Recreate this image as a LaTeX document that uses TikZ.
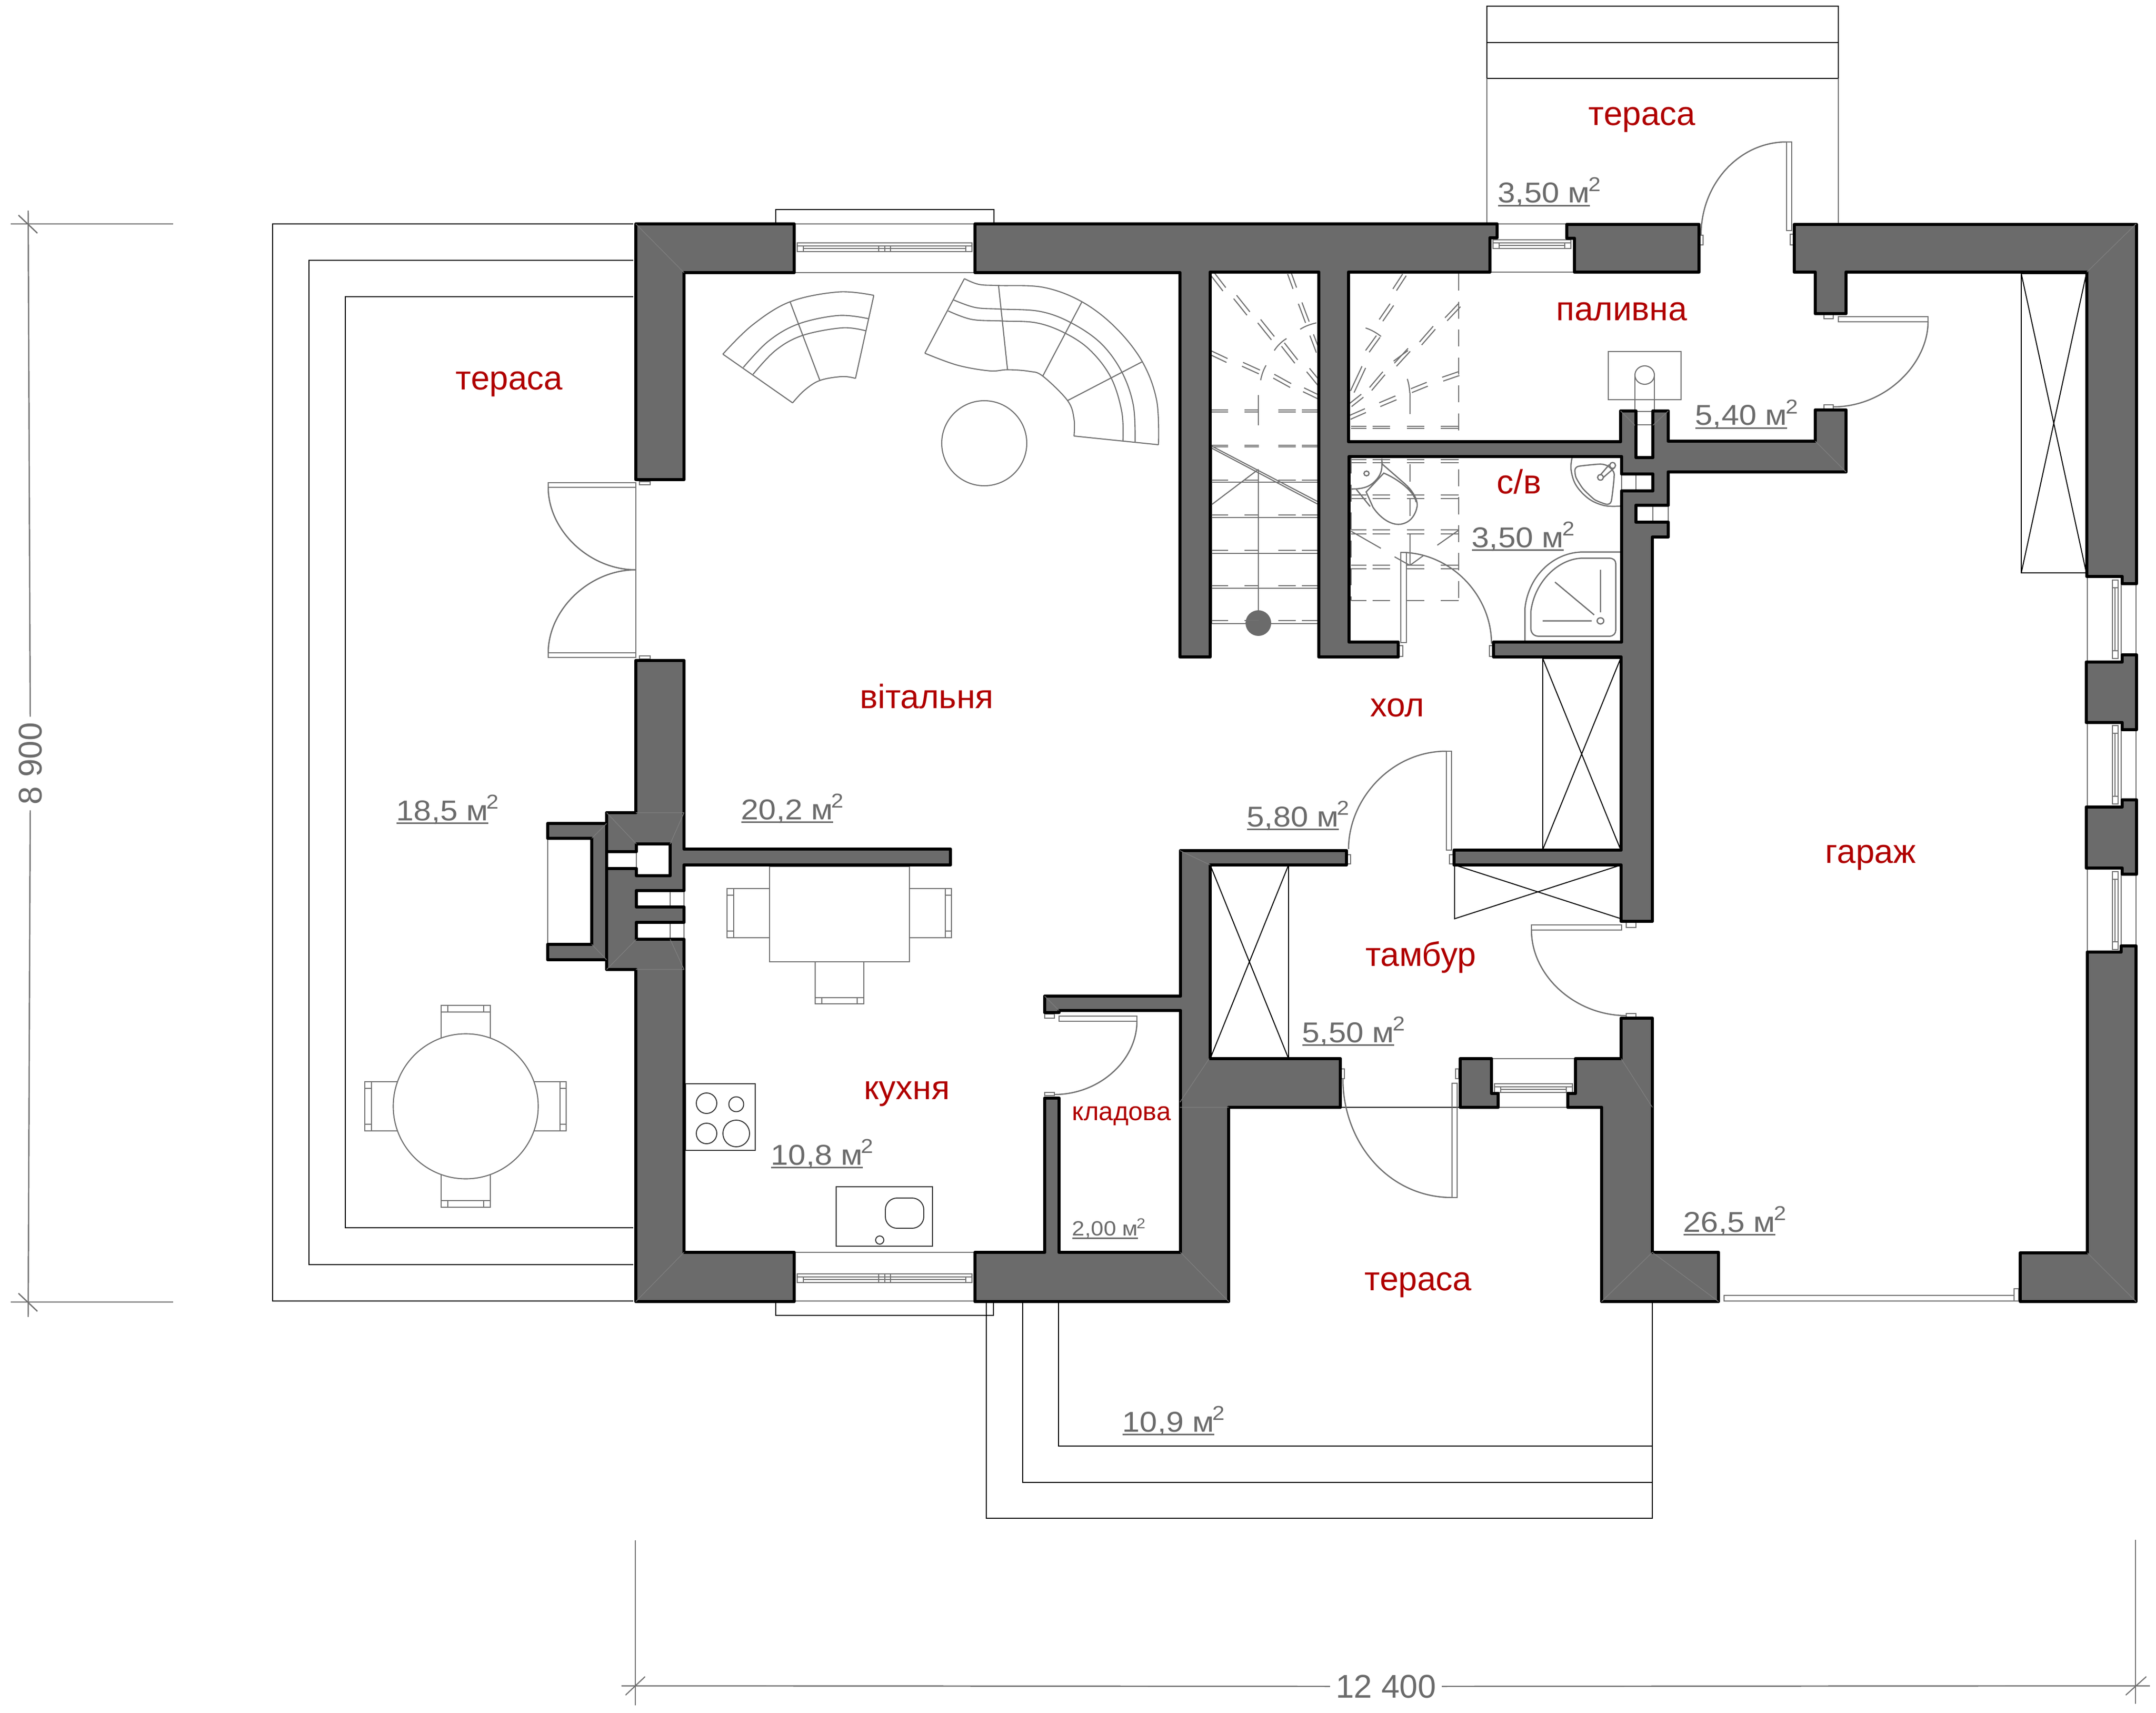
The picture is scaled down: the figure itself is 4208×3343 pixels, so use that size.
\documentclass[tikz,border=0pt]{standalone}
\usepackage{fontspec}
\setmainfont{Liberation Sans}
\newfontfamily\areafont[FakeStretch=1.1]{Liberation Sans}
\definecolor{wallgray}{HTML}{6B6B6B}
\definecolor{mitre}{HTML}{7F7F7F}
\definecolor{roomred}{HTML}{B00000}
\definecolor{linegray}{HTML}{707070}
\newcommand\areat[1]{\sbox0{#1}\rlap{\rule[-2pt]{\wd0}{.85pt}}\usebox0\kern-.8pt\textsuperscript{2}}
\tikzset{
  wall/.style={fill=wallgray,draw=black,line width=1.85pt,line join=round},
  mitreline/.style={draw=mitre,line width=.35pt},
  thin black/.style={draw=black,line width=.55pt},
  furn/.style={draw=linegray,line width=.6pt},
  fix/.style={draw=linegray,line width=.7pt},
  blackfix/.style={draw=black!80,line width=.55pt},
  stair/.style={draw=linegray,line width=.6pt},
  sdash/.style={draw=linegray,line width=.6pt,dash pattern=on 9.5pt off 6pt},
  dimline/.style={draw=linegray,line width=.7pt},
  room/.style={text=roomred,font=\fontsize{18.7}{21}\selectfont,inner sep=0pt,anchor=base},
  area/.style={text=wallgray,font=\areafont\fontsize{15.9}{18}\selectfont,inner sep=0pt,anchor=base west},
  smallarea/.style={text=wallgray,font=\areafont\fontsize{11.4}{13}\selectfont,inner sep=0pt,anchor=base west},
  dimtext/.style={text=wallgray,font=\fontsize{18.2}{20}\selectfont,inner sep=3pt}
}
% window across a horizontal wall: x1,x2,ytop,ybot,frame top y
\newcommand\winh[5]{%
  \draw[fix] (#1,#3) -- (#2,#3) (#1,#4) -- (#2,#4);
  \draw[fix] (#1+6,#5) rectangle (#2-6,#5+17);
  \draw[fix] (#1+6,#5+6) -- (#2-6,#5+6) (#1+18,#5+11) -- (#2-18,#5+11);
  \draw[fix] (#1+18,#5+6) -- (#1+18,#5+17) (#2-18,#5+6) -- (#2-18,#5+17);
}
% window across the east wall: ytop,ybot,frame y1,frame y2
\newcommand\wine[4]{%
  \draw[fix] (4074,#1) -- (4074,#2) (4169,#1) -- (4169,#2);
  \draw[fix] (4123,#3) rectangle (4134,#4);
  \draw[fix] (4128,#3+15) -- (4128,#4-15) (4123,#3+15) -- (4134,#3+15) (4123,#4-15) -- (4134,#4-15) (4140,#3) -- (4140,#4);
}
\newcommand\chairh[5]{% x1,x2,y outer,y table side,band y
  \draw[fix] (#1,#3) rectangle (#2,#4);
  \draw[fix] (#1,#5) -- (#2,#5) (#1+13,#3) -- (#1+13,#5) (#2-13,#3) -- (#2-13,#5);
}
\newcommand\chairv[5]{% y1,y2,x outer,x table side,band x
  \draw[fix] (#3,#1) rectangle (#4,#2);
  \draw[fix] (#5,#1) -- (#5,#2) (#3,#1+13) -- (#5,#1+13) (#3,#2-13) -- (#5,#2-13);
}
\begin{document}
\begin{tikzpicture}[x=0.01cm,y=-0.01cm]
\useasboundingbox (0,0) rectangle (4208,3343);
\fill[white] (0,0) rectangle (4208,3343);

% ---------- terraces ----------
\draw[thin black] (1236,437) -- (532,437) -- (532,2539) -- (1236,2539);
\draw[thin black] (1236,508) -- (603,508) -- (603,2468) -- (1236,2468);
\draw[thin black] (1236,579) -- (674,579) -- (674,2396) -- (1236,2396);
\draw[thin black] (1925,2540) -- (1925,2963) -- (3225,2963) -- (3225,2540);
\draw[thin black] (1996,2540) -- (1996,2893) -- (3225,2893);
\draw[thin black] (2066,2540) -- (2066,2822) -- (3225,2822);
\draw[thin black] (2902,12) rectangle (3588,153);
\draw[thin black] (2902,83) -- (3588,83);
\draw[furn] (2902,153) -- (2902,437) (3588,153) -- (3588,437);
\draw[thin black] (2616,2161) -- (2847,2161);

% ---------- sills & windows ----------
\draw[thin black] (1514,437) -- (1514,409) -- (1940,409) -- (1940,437);
\draw[thin black] (1514,2540) -- (1514,2567) -- (1939,2567) -- (1939,2540);
\winh{1550}{1903}{437}{532}{474}
\draw[fix] (1715,480) -- (1715,491) (1727,480) -- (1727,491) (1738,480) -- (1738,491);
\winh{1550}{1903}{2444}{2539}{2486}
\draw[fix] (1715,2486) -- (1715,2503) (1727,2486) -- (1727,2503) (1738,2486) -- (1738,2503);
\winh{2908}{3072}{437}{531}{468}
\winh{2911}{3075}{2066}{2161}{2115}
\wine{1125}{1292}{1132}{1285}
\wine{1410}{1575}{1416}{1569}
\wine{1694}{1858}{1701}{1853}
\draw[fix] (3365,2528) rectangle (3931,2539);
\draw[fix] (3931,2515) rectangle (3940,2539);

% ---------- doors ----------
\draw[fix] (1070,942) rectangle (1241,951);
\draw[fix] (1070,1274) rectangle (1241,1283);
\draw[fix] (1241,942) -- (1241,1283);
\draw[fix] (1070,951) .. controls (1070,1035) and (1150,1112) .. (1241,1112);
\draw[fix] (1070,1274) .. controls (1070,1190) and (1150,1112) .. (1241,1112);
\draw[fix] (1248,940) rectangle (1269,946);
\draw[fix] (1248,1280) rectangle (1269,1286);

\draw[fix] (3487,277) rectangle (3497,450);
\draw[fix] (3494,457) rectangle (3500,478);
\draw[fix] (3317,459) rectangle (3324,478);
\draw[fix] (3320,459) .. controls (3320,358) and (3395,277) .. (3487,277);

\draw[fix] (3588,618) rectangle (3763,628);
\draw[fix] (3560,612) rectangle (3578,622);
\draw[fix] (3560,790) rectangle (3578,800);
\draw[fix] (3763,628) .. controls (3763,710) and (3680,794) .. (3578,794);

\draw[fix] (2734,1078) rectangle (2745,1254);
\draw[fix] (2730,1260) rectangle (2738,1281);
\draw[fix] (2907,1260) rectangle (2915,1281);
\draw[fix] (2734,1078) .. controls (2830,1078) and (2911,1160) .. (2911,1256);

\draw[fix] (2823,1466) rectangle (2833,1659);
\draw[fix] (2829,1668) rectangle (2838,1686);
\draw[fix] (2628,1668) rectangle (2636,1686);
\draw[fix] (2632,1657) .. controls (2632,1560) and (2715,1466) .. (2823,1466);

\draw[fix] (2989,1805) rectangle (3165,1815);
\draw[fix] (3174,1798) rectangle (3193,1810);
\draw[fix] (3174,1978) rectangle (3193,1986);
\draw[fix] (2989,1815) .. controls (2989,1905) and (3075,1982) .. (3174,1982);

\draw[fix] (2834,2114) rectangle (2844,2337);
\draw[fix] (2841,2086) rectangle (2847,2105);
\draw[fix] (2618,2086) rectangle (2624,2105);
\draw[fix] (2834,2337) .. controls (2710,2337) and (2621,2230) .. (2621,2105);

\draw[fix] (2067,1983) rectangle (2219,1993);
\draw[fix] (2039,1979) rectangle (2058,1987);
\draw[fix] (2039,2132) rectangle (2058,2138);
\draw[fix] (2219,1993) .. controls (2219,2070) and (2145,2136) .. (2058,2136);

% ---------- closets ----------
\draw[thin black] (2362,1688) rectangle (2515,2066);
\draw[thin black] (2362,1688) -- (2515,2066) (2515,1688) -- (2362,2066);
\draw[thin black] (2839,1688) -- (2839,1793) -- (3164,1688) (2839,1688) -- (3164,1793);
\draw[thin black] (3011,1285) rectangle (3163,1658);
\draw[thin black] (3011,1285) -- (3163,1658) (3011,1658) -- (3163,1285);
\draw[thin black] (3945,534) rectangle (4072,1118);
\draw[thin black] (3945,534) -- (4072,1118) (3945,1118) -- (4072,534);

% ---------- living room furniture ----------
\begin{scope}[shift={(1300,380)},xscale=1/1.4255,yscale=1/2.24]
\draw[furn] plot[smooth,tension=.6] coordinates {(158,697)(240,570)(345,468)(480,425)(578,440)};
\draw[furn] (578,440) -- (527,803);
\draw[furn] plot[smooth,tension=.6] coordinates {(527,803)(490,795)(428,812)(385,855)(352,910)};
\draw[furn] (352,910) -- (158,697);
\draw[furn] plot[smooth,tension=.6] coordinates {(215,755)(285,640)(368,565)(480,528)(563,542)};
\draw[furn] plot[smooth,tension=.6] coordinates {(242,785)(305,680)(380,615)(490,582)(556,595)};
\draw[furn] (345,468) -- (428,812);
\draw[furn] plot[smooth,tension=.6] coordinates {(830,367)(870,392)(925,397)(1050,405)(1157,468)(1250,580)(1325,730)(1365,900)(1370,1093)};
\draw[furn] (1370,1093) -- (1135,1055);
\draw[furn] plot[smooth,tension=.6] coordinates {(1135,1055)(1135,980)(1117,900)(1048,793)(1010,772)(950,765)(900,770)(810,745)(720,693)};
\draw[furn] (720,693) -- (830,367);
\draw[furn] plot[smooth,tension=.6] coordinates {(800,460)(860,493)(930,500)(1040,510)(1127,560)(1210,650)(1268,775)(1300,920)(1305,1080)};
\draw[furn] plot[smooth,tension=.6] coordinates {(785,508)(850,545)(935,552)(1030,560)(1110,605)(1180,680)(1238,800)(1268,950)(1271,1077)};
\draw[furn] (925,397) -- (950,765) (1157,468) -- (1048,793) (1325,730) -- (1117,900);
\end{scope}
\draw[furn] (1921,865) circle (83);

% ---------- tables ----------
\chairh{861}{957}{1962}{2040}{1975}
\chairh{861}{957}{2356}{2280}{2343}
\chairv{2111}{2207}{712}{790}{725}
\chairv{2111}{2207}{1105}{1030}{1093}
\draw[furn,fill=white] (909,2159) circle (141.5);
\chairh{1591}{1686}{1959}{1877}{1947}
\chairv{1734}{1830}{1419}{1502}{1432}
\chairv{1734}{1830}{1857}{1775}{1845}
\draw[furn] (1502,1691) rectangle (1775,1877);

% ---------- kitchen ----------
\draw[blackfix] (1338,2115) rectangle (1474,2245);
\draw[blackfix] (1379,2153) circle (20) (1437,2155) circle (14.5) (1379,2212) circle (20) (1437,2212) circle (26);
\draw[blackfix] (1632,2316) rectangle (1820,2432);
\draw[blackfix,rounded corners=6.5pt] (1728,2338) rectangle (1803,2397);
\draw[blackfix] (1717,2420) circle (8);

% ---------- boiler ----------
\draw[furn] (3139,686) rectangle (3281,780);
\draw[furn] (3191,732) -- (3191,893) (3229,732) -- (3229,893);
\draw[furn] (3210,732) ellipse (19 and 18);
\draw[furn] (3191,803) -- (3229,803) (3191,829) -- (3229,829);

% ---------- stairs ----------
\foreach \yy in {941,1010,1080,1148,1217}{\draw[stair] (2362,\yy) -- (2574,\yy);}
\draw[stair] (2365,869) -- (2365,1217) (2456,916) -- (2456,1194) (2574,983) -- (2574,1217);
\draw[stair] (2362,869) -- (2574,980) (2362,873) -- (2574,985);
\draw[stair] (2362,987) -- (2456,916);
\fill[wallgray] (2456,1216) circle (25);
% dashed treads, left flight
\foreach \yy in {800,804,869,872,937,1005,1074,1143,1211}{
  \foreach \xa/\xb in {2362/2397,2429/2457,2495/2529,2541/2574}{\draw[stair] (\xa,\yy) -- (\xb,\yy);}
}
% dashed treads, right flight
\foreach \yy in {832,836,897,903,966,973,1034,1042,1103,1110,1172}{
  \foreach \xa/\xb in {2637/2667,2679/2713,2746/2780,2812/2847}{\draw[stair] (\xa,\yy) -- (\xb,\yy);}
}
\draw[sdash] (2362,531) -- (2362,869);
\draw[sdash] (2362,531) -- (2574,531);
\draw[sdash] (2632,531) -- (2847,531) -- (2847,1172);
\draw[sdash] (2637,891) -- (2637,1172);
\draw[stair] (2456,771) -- (2456,830);
\begin{scope}[shift={(2250,0)},xscale=1/1.4255,yscale=1/1.206]
\foreach \a/\b/\c/\d in {163/650/195/685,225/703/262/742,292/760/330/800,358/815/395/855,428/875/462/910}{
  \draw[stair] (\a,\b) -- (\c,\d); \draw[stair] (\a+8,\b-8) -- (\c+8,\d-8);}
\foreach \a/\b/\c/\d in {375/645/390/680,405/715/425/760,437/790/455/830}{
  \draw[stair] (\a,\b) -- (\c,\d); \draw[stair] (\a+10,\b-3) -- (\c+10,\d-3);}
\foreach \a/\b/\c/\d in {160/835/205/853,248/862/295/880,335/890/382/912,418/922/462/940}{
  \draw[stair] (\a,\b) -- (\c,\d); \draw[stair] (\a+3,\b-9) -- (\c+3,\d-9);}
\foreach \a/\b/\c/\d in {695/645/668/680,660/715/630/752,622/790/592/825,582/862/550/920}{
  \draw[stair] (\a,\b) -- (\c,\d); \draw[stair] (\a+10,\b+4) -- (\c+10,\d+4);}
\foreach \a/\b/\c/\d in {850/715/813/748,780/768/742/805,710/820/672/855,640/875/603/912,580/928/547/950}{
  \draw[stair] (\a,\b) -- (\c,\d); \draw[stair] (\a+6,\b+7) -- (\c+6,\d+7);}
\foreach \a/\b/\c/\d in {850/875/805/888,762/900/718/915,675/932/630/948,590/962/547/978}{
  \draw[stair] (\a,\b) -- (\c,\d); \draw[stair] (\a+3,\b+9) -- (\c+3,\d+9);}
\draw[stair] (410,775) .. controls (425,767) and (440,763) .. (455,760);
\draw[stair] (338,825) .. controls (348,812) and (360,803) .. (372,797);
\draw[stair] (300,895) .. controls (303,882) and (308,870) .. (315,860);
\draw[stair] (592,772) .. controls (607,776) and (622,783) .. (635,792);
\draw[stair] (670,850) -- (710,825);
\draw[stair] (708,892) .. controls (712,902) and (714,913) .. (715,925);
\draw[stair] (715,925) -- (715,975);
\draw[stair] (294,930) -- (294,995);
\end{scope}
% fixtures and flight in the bathroom, in crop coordinates
\begin{scope}[shift={(2630,860)},xscale=1/2.613,yscale=1/3]
\draw[stair] (318,138) -- (318,240) (318,340) -- (318,440) (318,545) -- (318,730);
\draw[stair] (18,530) -- (170,630) (240,680) -- (318,730) (566,525) -- (458,612) (388,672) -- (318,730);
% toilet
\draw[fix] (175,105) .. controls (178,160) and (175,190) .. (150,225) .. controls (120,265) and (90,283) .. (18,283);
\draw[fix] (97,192) ellipse (13 and 14);
\draw[fix] (175,135) -- (290,250) .. controls (340,300) and (365,360) .. (352,400) .. controls (335,470) and (290,490) .. (260,490) .. controls (215,490) and (165,450) .. (130,390) -- (95,300) -- (185,190) .. controls (240,215) and (340,290) .. (350,360);
\draw[fix] (45,285) -- (115,385);
% basin
\draw[fix] plot[smooth,tension=.6] coordinates {(1145,100)(1140,170)(1165,260)(1230,340)(1310,380)(1390,383)};
\draw[fix] plot[smooth cycle,tension=.35] coordinates {(1160,170)(1178,150)(1290,137)(1330,150)(1360,195)(1345,355)(1320,372)(1260,345)(1200,280)(1165,215)};
\draw[fix] (1290,215) ellipse (15 and 16);
\draw[fix] (1352,145) ellipse (15 and 17);
\draw[fix] (1290,200) -- (1335,140) (1305,215) -- (1360,160);
% shower
\draw[fix] (905,1170) -- (905,980) .. controls (925,780) and (1060,652) .. (1200,652) -- (1390,652);
\draw[fix] (935,1100) -- (935,1000) .. controls (955,820) and (1080,688) .. (1200,688) -- (1335,688) .. controls (1355,688) and (1368,700) .. (1368,720) -- (1368,1110) .. controls (1368,1130) and (1355,1145) .. (1335,1145) -- (975,1145) .. controls (950,1145) and (935,1125) .. (935,1100);
\draw[fix] (1058,828) -- (1258,1020) (1290,756) -- (1290,1005) (995,1055) -- (1245,1055);
\draw[fix] (1290,1055) ellipse (17 and 18);
\end{scope}

% ---------- flue openings, thin lines ----------
\draw[fix] (1069,1636) -- (1069,1843);
\draw[fix] (1184,1662) -- (1184,1695) (1242,1662) -- (1242,1695);
\draw[fix] (1308,1738) -- (1308,1770) (1308,1800) -- (1308,1833) (1335,1738) -- (1335,1770) (1335,1800) -- (1335,1833);
\draw[fix] (3165,925) -- (3165,958) (3193,925) -- (3193,958);
\draw[fix] (3256,986) -- (3256,1019) (3226,986) -- (3226,1019);

% ---------- walls ----------
\draw[wall] (1241,437) -- (1550,437) -- (1550,532) -- (1335,532) -- (1335,936) -- (1241,936) -- cycle;
\draw[wall] (1069,1607) -- (1184,1607) -- (1184,1873) -- (1069,1873) -- (1069,1843) -- (1155,1843) -- (1155,1636) -- (1069,1636) -- cycle;
\draw[wall] (1241,1289) -- (1241,1586) -- (1184,1586) -- (1184,1662) -- (1242,1662) -- (1242,1647) -- (1308,1647) -- (1308,1709) -- (1242,1709) -- (1242,1695) -- (1184,1695) -- (1184,1892) -- (1241,1892) -- (1241,2540) -- (1550,2540) -- (1550,2444) -- (1335,2444) -- (1335,1833) -- (1242,1833) -- (1242,1800) -- (1335,1800) -- (1335,1770) -- (1242,1770) -- (1242,1738) -- (1335,1738) -- (1335,1688) -- (1855,1688) -- (1855,1657) -- (1335,1657) -- (1335,1289) -- cycle;
\draw[wall] (1903,437) -- (2922,437) -- (2922,464) -- (2908,464) -- (2908,531) -- (2632,531) -- (2632,862) -- (3163,862) -- (3163,802) -- (3193,802) -- (3193,893) -- (3226,893) -- (3226,802) -- (3256,802) -- (3256,861) -- (3543,861) -- (3543,800) -- (3603,800) -- (3603,921) -- (3256,921) -- (3256,986) -- (3193,986) -- (3193,1019) -- (3256,1019) -- (3256,1048) -- (3225,1048) -- (3225,1798) -- (3164,1798) -- (3164,1688) -- (2838,1688) -- (2838,1659) -- (3164,1659) -- (3164,1282) -- (2915,1282) -- (2915,1253) -- (3165,1253) -- (3165,958) -- (3226,958) -- (3226,925) -- (3165,925) -- (3165,891) -- (2633,891) -- (2633,1253) -- (2729,1253) -- (2729,1282) -- (2574,1282) -- (2574,531) -- (2362,531) -- (2362,1282) -- (2303,1282) -- (2303,532) -- (1903,532) -- cycle;
\draw[wall] (3058,438) -- (3316,438) -- (3316,531) -- (3073,531) -- (3073,465) -- (3058,465) -- cycle;
\draw[wall] (3502,438) -- (4170,438) -- (4170,1139) -- (4142,1139) -- (4142,1125) -- (4073,1125) -- (4073,531) -- (3603,531) -- (3603,612) -- (3543,612) -- (3543,531) -- (3502,531) -- cycle;
\draw[wall] (4142,1278) -- (4170,1278) -- (4170,1424) -- (4142,1424) -- (4142,1410) -- (4072,1410) -- (4072,1292) -- (4142,1292) -- cycle;
\draw[wall] (4142,1561) -- (4170,1561) -- (4170,1706) -- (4142,1706) -- (4142,1694) -- (4072,1694) -- (4072,1575) -- (4142,1575) -- cycle;
\draw[wall] (4074,1858) -- (4140,1858) -- (4140,1846) -- (4169,1846) -- (4169,2540) -- (3943,2540) -- (3943,2445) -- (4074,2445) -- cycle;
\draw[wall] (1903,2540) -- (1903,2444) -- (2039,2444) -- (2039,2143) -- (2067,2143) -- (2067,2444) -- (2304,2444) -- (2304,1972) -- (2067,1972) -- (2067,1976) -- (2039,1976) -- (2039,1944) -- (2304,1944) -- (2304,1660) -- (2628,1660) -- (2628,1688) -- (2362,1688) -- (2362,2066) -- (2616,2066) -- (2616,2161) -- (2398,2161) -- (2398,2540) -- cycle;
\draw[wall] (2850,2066) -- (2911,2066) -- (2911,2134) -- (2924,2134) -- (2924,2161) -- (2850,2161) -- cycle;
\draw[wall] (3164,1987) -- (3225,1987) -- (3225,2444) -- (3354,2444) -- (3354,2540) -- (3126,2540) -- (3126,2161) -- (3060,2161) -- (3060,2134) -- (3075,2134) -- (3075,2066) -- (3164,2066) -- cycle;

% ---------- faint mitre lines on the walls ----------
\draw[mitreline] (1241,437) -- (1335,532) (1241,2540) -- (1335,2444) (4169,437) -- (4073,531) (4169,2540) -- (4074,2445);
\draw[mitreline] (2398,2540) -- (2304,2444) (2303,1660) -- (2362,1688) (2303,2151) -- (2360,2066) (2303,2161) -- (2398,2161);
\draw[mitreline] (3225,2161) -- (3164,2066) (3126,2540) -- (3225,2444) (3354,2540) -- (3225,2444) (2039,1944) -- (2067,1972);
\draw[mitreline] (1184,1607) -- (1155,1636) (1184,1873) -- (1155,1843) (1184,1586) -- (1242,1647) (1335,1586) -- (1308,1647) (1184,1892) -- (1242,1833) (1335,1892) -- (1308,1833);
\draw[mitreline] (1241,1586) -- (1335,1586) (1241,1892) -- (1335,1892) (3603,921) -- (3543,861) (3163,802) -- (3191,830) (3256,802) -- (3226,830);

% ---------- dimensions ----------
\coordinate (dv1) at (55,411);
\coordinate (dv2) at (55,2570);
\coordinate (dh1) at (1213,3290);
\coordinate (dh2) at (4196,3290);
\node[dimtext,rotate=90] (dimv) at (59,1490) {8 900};
\node[dimtext] (dimh) at (2705,3291) {12 400};
\draw[dimline] (dv1) -- (dimv.east) (dimv.west) -- (dv2);
\draw[dimline] (dh1) -- (dimh.west) (dimh.east) -- (dh2);
\draw[dimline] (21,437) -- (338,437) (21,2541) -- (338,2541);
\draw[dimline] (36,420) -- (73,455) (36,2524) -- (73,2559);
\draw[furn] (1240,3006) -- (1240,3328) (4168,3005) -- (4168,3325);
\draw[furn] (1221,3308) -- (1259,3272) (4149,3308) -- (4189,3272);

% ---------- room names ----------
\node[room] (t1) at (3205,245) {тераса};
\node[room] (t2) at (994,761) {тераса};
\node[room] (t3) at (2768,2518) {тераса};
\node[room] (r1) at (3165,626) {паливна};
\node[room] (r2) at (2965,964) {с/в};
\node[room] (r3) at (1809,1382) {вітальня};
\node[room] (r4) at (2727,1398) {хол};
\node[room] (r5) at (2773,1885) {тамбур};
\node[room] (r6) at (3651,1684) {гараж};
\node[room] (r7) at (1770,2145) {кухня};
\node[room,font=\fontsize{14.4}{16}\selectfont] (r8) at (2189,2186) {кладова};

% ---------- areas ----------
\node[area] (a1) at (2923,396) {\areat{3,50 м}};
\node[area] (a2) at (3308,830) {\areat{5,40 м}};
\node[area] (a3) at (2872,1068) {\areat{3,50 м}};
\node[area] (a4) at (1446,1599) {\areat{20,2 м}};
\node[area] (a5) at (2433,1613) {\areat{5,80 м}};
\node[area] (a6) at (2541,2034) {\areat{5,50 м}};
\node[area] (a7) at (1504,2273) {\areat{10,8 м}};
\node[smallarea] (a8) at (2092,2411) {\areat{2,00 м}};
\node[area] (a9) at (773,1601) {\areat{18,5 м}};
\node[area] (a10) at (2190,2794) {\areat{10,9 м}};
\node[area] (a11) at (3285,2404) {\areat{26,5 м}};
\end{tikzpicture}
\end{document}
